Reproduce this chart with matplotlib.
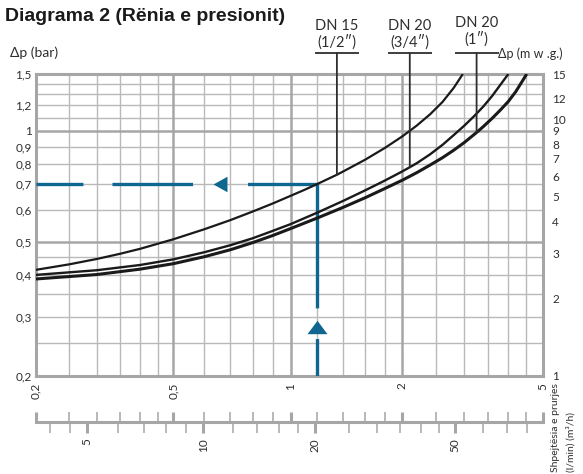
import numpy as np
import matplotlib
matplotlib.use("Agg")
import matplotlib.pyplot as plt
from matplotlib.ticker import NullLocator
from matplotlib.transforms import blended_transform_factory

plt.rcParams['font.family'] = ['Lato', 'DejaVu Sans']
plt.rcParams['font.weight'] = 'normal'
plt.rcParams['lines.scale_dashes'] = False

# ---------------- data ----------------
flow_dn15 = [0.2, 0.25, 0.3, 0.35, 0.4, 0.5, 0.6, 0.7, 0.8, 0.9, 1.0, 1.1, 1.2,
             1.35, 1.4, 1.6, 1.8, 2.0, 2.2, 2.4, 2.6, 2.8, 2.97]
dp_dn15 = [0.413, 0.429, 0.445, 0.461, 0.477, 0.508, 0.538, 0.567, 0.596, 0.624, 0.652, 0.675, 0.698,
           0.743, 0.759, 0.823, 0.891, 0.964, 1.040, 1.127, 1.229, 1.360, 1.5]

flow_dn20_34 = [0.2, 0.3, 0.4, 0.5, 0.6, 0.7, 0.8, 0.9, 1.0, 1.2, 1.4, 1.6, 1.8,
                2.0, 2.1, 2.2, 2.4, 2.6, 2.8, 3.0, 3.2, 3.4, 3.6, 3.8, 4.0]
dp_dn20_34 = [0.399, 0.412, 0.427, 0.444, 0.466, 0.489, 0.511, 0.533, 0.554, 0.592, 0.633, 0.673, 0.714,
              0.760, 0.782, 0.804, 0.854, 0.910, 0.973, 1.039, 1.112, 1.192, 1.284, 1.391, 1.5]

flow_dn20_1 = [0.2, 0.3, 0.4, 0.5, 0.6, 0.7, 0.8, 0.9, 1.0, 1.2, 1.4, 1.6, 1.8, 2.0,
               2.2, 2.4, 2.6, 2.8, 3.0, 3.25, 3.4, 3.6, 3.8, 4.0, 4.2, 4.4, 4.51]
dp_dn20_1 = [0.388, 0.400, 0.415, 0.431, 0.452, 0.474, 0.498, 0.519, 0.540, 0.574, 0.610, 0.645, 0.680, 0.716,
             0.754, 0.794, 0.834, 0.878, 0.925, 0.990, 1.033, 1.095, 1.162, 1.234, 1.324, 1.436, 1.5]

series_names = [("DN 15", "(1/2″)"), ("DN 20", "(3/4″)"), ("DN 20", "(1″)")]
leader_index = [13, 14, 19]        # curve point where each label's leader ends

example_flow = 1.2                  # m3/h  (= 20 l/min)
example_dp = 0.7                    # bar
arrow_h_flow = 0.66
arrow_v_dp = 0.28

x_ticks = [0.2, 0.5, 1, 2, 5]
x_ticklabels = ['0,2', '0,5', '1', '2', '5']
x_grid_major = [0.5, 1, 2]
x_grid_minor = [0.25, 0.3, 0.35, 0.4, 0.45, 0.6, 0.7, 0.8, 0.9,
                1.2, 1.4, 1.6, 1.8, 2.5, 3, 3.5, 4, 4.5]

y_ticks = [0.2, 0.3, 0.4, 0.5, 0.6, 0.7, 0.8, 0.9, 1.0, 1.2, 1.5]
y_ticklabels = ['0,2', '0,3', '0,4', '0,5', '0,6', '0,7', '0,8', '0,9', '1', '1,2', '1,5']
y_grid_major = [0.5, 1.0]
y_grid_minor = [0.25, 0.3, 0.35, 0.4, 0.45, 0.6, 0.7, 0.8, 0.9, 1.1, 1.2, 1.3, 1.4]

mwg_ticks = [1, 2, 3, 4, 5, 6, 7, 8, 9, 10, 12, 15]

lpm_major = [5, 10, 20, 50]
lpm_minor = [4, 4.5, 6, 7, 8, 9, 12, 14, 16, 18, 25, 30, 35, 40, 45, 60, 70, 80]

# ---------------- scales (hand-drawn, slightly uneven log grids) ----------------
x_scale_vals = [0.2, 0.5, 1, 1.2, 2, 5]
x_scale_pos = [0.0, 0.2719, 0.5028, 0.5556, 0.7234, 1.0]
y_scale_vals = [0.2, 0.5, 0.7, 1.0, 1.5]
y_scale_pos = [0.0, 0.4432, 0.6370, 0.8111, 1.0]
lpm_scale_vals = [5, 10, 20, 50]
lpm_scale_pos = [0.1018, 0.3307, 0.5505, 0.8274]


def piecewise_log(vals, pos):
    lv = np.log10(np.asarray(vals, float))
    ps = np.asarray(pos, float)
    s0 = (ps[1] - ps[0]) / (lv[1] - lv[0])
    s1 = (ps[-1] - ps[-2]) / (lv[-1] - lv[-2])

    def fwd(x):
        lx = np.log10(np.clip(np.asarray(x, float), 1e-9, None))
        out = np.interp(lx, lv, ps)
        out = np.where(lx < lv[0], ps[0] + (lx - lv[0]) * s0, out)
        out = np.where(lx > lv[-1], ps[-1] + (lx - lv[-1]) * s1, out)
        return out

    def inv(y):
        y = np.asarray(y, float)
        out = np.interp(y, ps, lv)
        out = np.where(y < ps[0], lv[0] + (y - ps[0]) / s0, out)
        out = np.where(y > ps[-1], lv[-1] + (y - ps[-1]) / s1, out)
        return 10 ** out

    return fwd, inv


xf, xi = piecewise_log(x_scale_vals, x_scale_pos)
yf, yi = piecewise_log(y_scale_vals, y_scale_pos)
lf, li = piecewise_log(lpm_scale_vals, lpm_scale_pos)

# ---------------- layout ----------------
W_PX, H_PX = 583, 474
fig = plt.figure(figsize=(W_PX / 100, H_PX / 100), dpi=100)


def fx(px):
    return px / W_PX


def fy(py):
    return 1 - py / H_PX


L, R, T, B = 35.7, 542.5, 74.0, 375.7
ax = fig.add_axes([fx(L), fy(B), fx(R - L), (B - T) / H_PX])


def ay(py):  # pixel y -> axes fraction
    return (B - py) / (B - T)


GRID_MAJ = '#a6a6a6'
GRID_MIN = '#b9b9b9'
BLUE = '#0f6690'
CURVE = '#1a1a1a'
TXT = '#2e2e2e'

ax.set_xscale('function', functions=(xf, xi))
ax.set_yscale('function', functions=(yf, yi))
ax.set_xlim(0.2, 5)
ax.set_ylim(0.2, 1.5)

for v in x_grid_minor:
    ax.axvline(v, color=GRID_MIN, lw=1.0, zorder=1)
for v in y_grid_minor:
    ax.axhline(v, color=GRID_MIN, lw=1.0, zorder=1)
for v in x_grid_major:
    ax.axvline(v, color=GRID_MAJ, lw=1.8, zorder=1.2)
for v in y_grid_major:
    ax.axhline(v, color=GRID_MAJ, lw=1.8, zorder=1.2)

for s in ax.spines.values():
    s.set_color(GRID_MAJ)
    s.set_linewidth(2.2)

ax.set_xticks(x_ticks, labels=x_ticklabels)
ax.set_yticks(y_ticks, labels=y_ticklabels)
ax.xaxis.set_minor_locator(NullLocator())
ax.yaxis.set_minor_locator(NullLocator())
ax.tick_params(axis='x', length=0, pad=5, labelrotation=90, labelsize=8.5, labelcolor=TXT)
ax.tick_params(axis='y', length=0, pad=3, labelsize=8.5, labelcolor=TXT)

# right axis (m w.g.)
axr = ax.twinx()
axr.set_yscale('log')
axr.set_ylim(1, 15)
axr.set_yticks(mwg_ticks, labels=[str(v) for v in mwg_ticks])
axr.yaxis.set_minor_locator(NullLocator())
axr.tick_params(axis='y', length=0, pad=7, labelsize=8.5, labelcolor=TXT)
for s in axr.spines.values():
    s.set_visible(False)

# example reading (blue)
ax.plot([0.2, example_flow, example_flow], [example_dp, example_dp, 0.2],
        color=BLUE, lw=2.4, dashes=[33.8, 20.9, 58.0, 39.6, 139.2, 22.1, 200],
        solid_joinstyle='miter', dash_joinstyle='miter', dash_capstyle='butt', zorder=3)
left_tri = [(-7, 0), (7, 7.8), (7, -7.8), (-7, 0)]
up_tri = [(0, 6.7), (-10, -6.7), (10, -6.7), (0, 6.7)]
ax.plot([arrow_h_flow], [example_dp], ls='none', marker=left_tri, ms=11.2,
        color=BLUE, mew=0, zorder=3)
ax.plot([example_flow], [arrow_v_dp], ls='none', marker=up_tri, ms=14.4,
        color=BLUE, mew=0, zorder=3)

# curves
curves = [(flow_dn15, dp_dn15, 1.6), (flow_dn20_34, dp_dn20_34, 1.7), (flow_dn20_1, dp_dn20_1, 2.2)]
for fl, dp, lw in curves:
    ax.plot(fl, dp, color=CURVE, lw=lw, solid_joinstyle='round', solid_capstyle='butt', zorder=4)

# leaders and labels
blend = blended_transform_factory(ax.transData, ax.transAxes)
bar_y = ay(53.3)
label_base = [(30.0, 46.3), (30.0, 46.3), (27.3, 44.0)]
for (fl, dp, _), idx, (n1, n2), (b1, b2) in zip(curves, leader_index, series_names, label_base):
    xl, yl = fl[idx], dp[idx]
    ax.annotate('', xy=(xl, yl), xycoords='data', xytext=(xl, bar_y), textcoords=blend,
                arrowprops=dict(arrowstyle='-', color=TXT, lw=1.3, shrinkA=0, shrinkB=0),
                annotation_clip=False, zorder=5)
    ax.plot([xl], [bar_y], transform=blend, marker='_', ms=31, mew=1.3, color=TXT,
            clip_on=False, zorder=5)
    ax.text(xl, ay(b1), n1, transform=blend, ha='center', va='baseline', fontsize=10.5, color=TXT)
    ax.text(xl, ay(b2), n2, transform=blend, ha='center', va='baseline', fontsize=10.5, color=TXT)

# lower flow scale line (m3/h ticks up, l/min ticks down)
YL = 422.3
ax_b = fig.add_axes([fx(L), fy(YL), fx(R - L), 1e-4])
ax_b.set_xscale('function', functions=(xf, xi))
ax_b.set_xlim(0.2, 5)
ax_b.patch.set_visible(False)
for k in ['top', 'left', 'right']:
    ax_b.spines[k].set_visible(False)
ax_b.spines['bottom'].set_color(GRID_MAJ)
ax_b.spines['bottom'].set_linewidth(2.2)
ax_b.set_yticks([])
ax_b.set_xticks(x_ticks)
ax_b.set_xticks(x_grid_minor, minor=True)
ax_b.tick_params(axis='x', which='both', direction='in', labelbottom=False, color=GRID_MAJ)
ax_b.tick_params(axis='x', which='major', length=7.2, width=2.2)
ax_b.tick_params(axis='x', which='minor', length=7.2, width=1.1)

ax_l = fig.add_axes([fx(L), fy(YL), fx(R - L), 1e-4])
ax_l.set_xscale('function', functions=(lf, li))
ax_l.set_xlim(float(li(0.0)), float(li(1.0)))
ax_l.patch.set_visible(False)
for s in ax_l.spines.values():
    s.set_visible(False)
ax_l.set_yticks([])
ax_l.set_xticks(lpm_major, labels=[str(v) for v in lpm_major])
ax_l.set_xticks(lpm_minor, minor=True)
ax_l.tick_params(axis='x', which='both', direction='out', color=GRID_MAJ,
                 labelrotation=90, labelsize=8.5, labelcolor=TXT, pad=3.4)
ax_l.tick_params(axis='x', which='major', length=7.9, width=2.2)
ax_l.tick_params(axis='x', which='minor', length=7.9, width=1.1)

# texts
fig.text(fx(5), fy(20.7), 'Diagrama 2 (Rënia e presionit)', family='Liberation Sans',
         fontweight='bold', fontsize=14, color='#1a1a1a', va='baseline', ha='left')
fig.text(fx(10), fy(57.3), 'Δp (bar)', fontsize=10, color=TXT, va='baseline', ha='left')
fig.text(fx(498), fy(58.5), 'Δp (m w .g.)', fontsize=9, color=TXT, va='baseline', ha='left')
fig.text(fx(555.5), fy(472.5), 'Shpejtësia e prurjes', rotation=90, fontsize=7.5,
         color=TXT, ha='center', va='bottom')
fig.text(fx(571), fy(472.5), '(l/min) (m³/h)', rotation=90, fontsize=7.5,
         color=TXT, ha='center', va='bottom')

fig.savefig('out.png', dpi=100)
